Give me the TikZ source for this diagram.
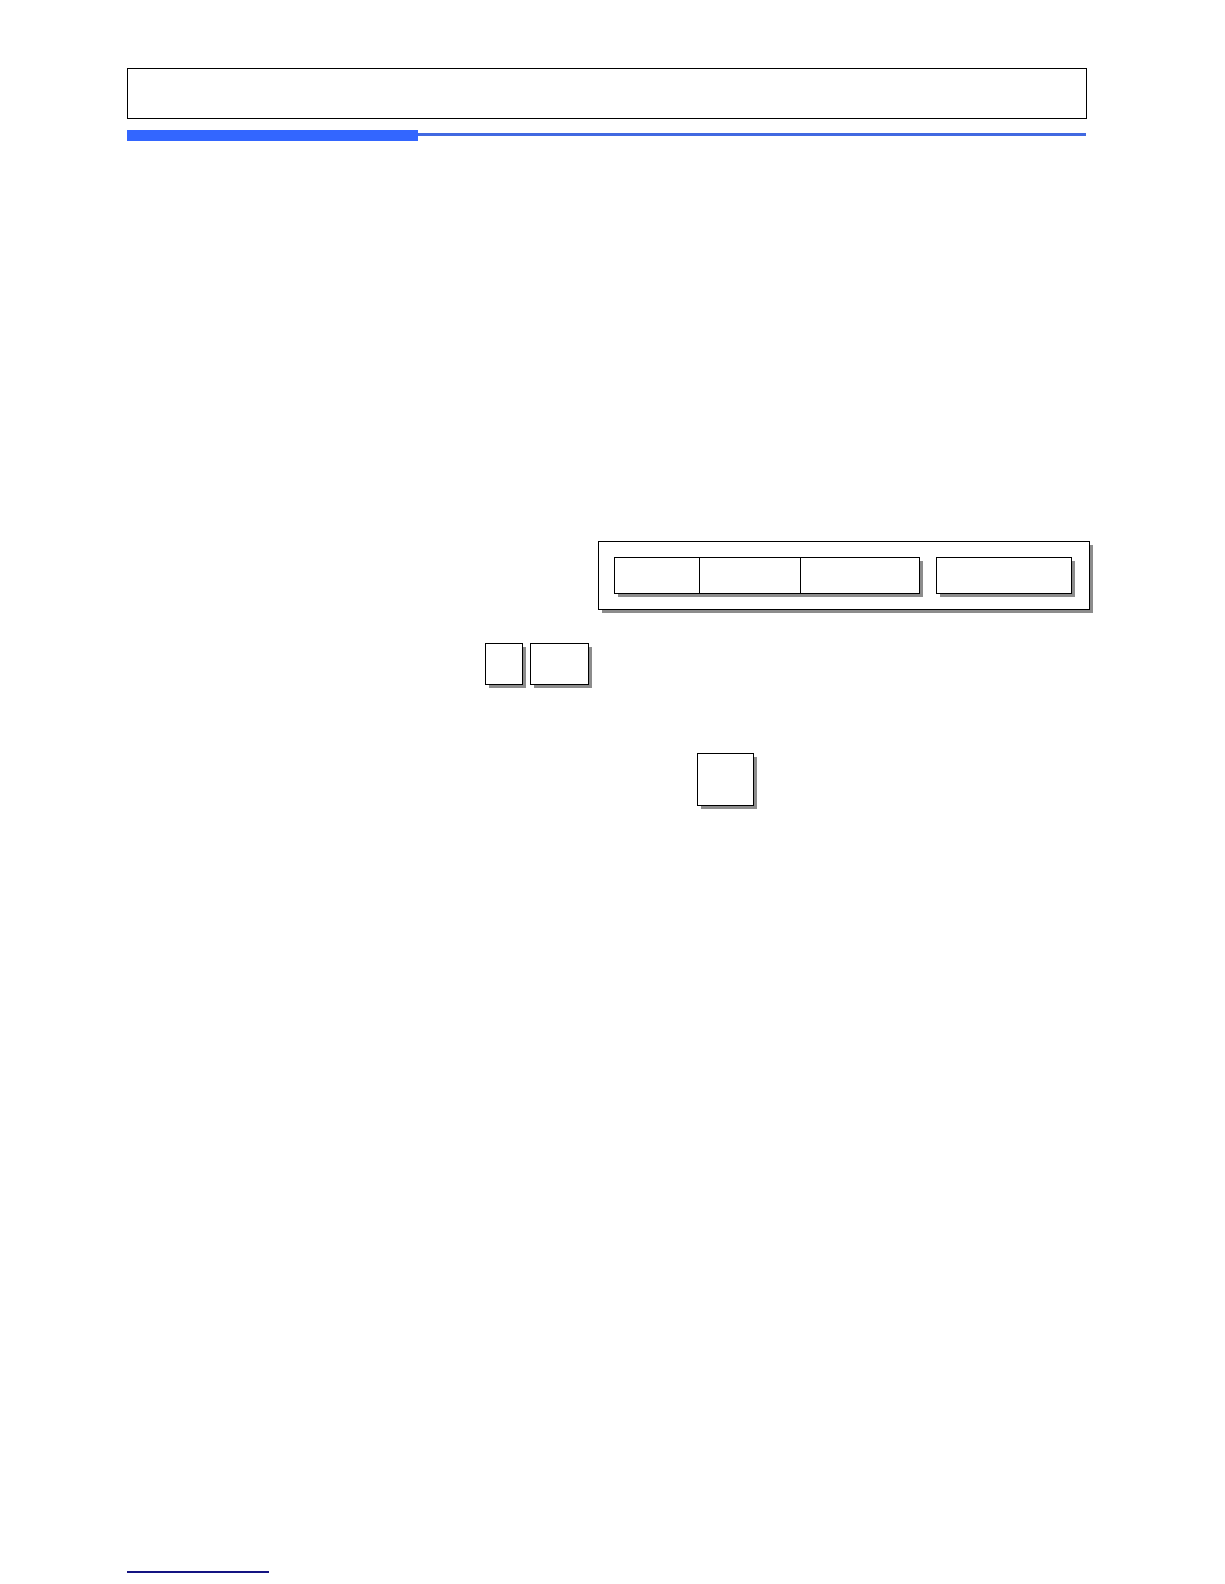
\documentclass[tikz,border=0pt]{standalone}
\begin{document}
\begin{tikzpicture}[x=1pt,y=-1pt,
  keybox/.style={draw=black,line width=1.3pt,fill=white},
  shadowbox/.style={fill=black!45,draw=none}]
\useasboundingbox (0,0) rectangle (1224,1584);
\definecolor{barblue}{RGB}{51,102,255}
\definecolor{lineblue}{RGB}{65,105,225}
\definecolor{navy}{RGB}{20,20,130}
% header frame
\node[draw=black,line width=1pt,minimum width=959pt,minimum height=50pt,anchor=north west,inner sep=0pt] (head) at (127,68) {};
% blue bar
\fill[barblue] (127,130) rectangle (418,141);
\fill[lineblue] (418,133.5) rectangle (1086,136.5);
% outer display frame
\fill[black!45] (602,545) rectangle (1093,613);
\node[keybox,line width=1pt,minimum width=491pt,minimum height=68pt,anchor=north west,inner sep=0pt] (frame) at (598,541) {};
% inner fields
\fill[black!45] (618,561) rectangle (923,597);
\node[keybox,minimum width=85pt,minimum height=36pt,anchor=north west,inner sep=0pt] (f1) at (614,557) {};
\node[keybox,line width=1pt,minimum width=101pt,minimum height=36pt,anchor=north west,inner sep=0pt] (f2) at (699,557) {};
\node[keybox,minimum width=119pt,minimum height=36pt,anchor=north west,inner sep=0pt] (f3) at (800,557) {};
\fill[black!45] (940,561) rectangle (1075,597);
\node[keybox,minimum width=135pt,minimum height=36pt,anchor=north west,inner sep=0pt] (f4) at (936,557) {};
% small keys
\fill[black!45] (489,647) rectangle (526,688);
\node[keybox,minimum width=37pt,minimum height=41pt,anchor=north west,inner sep=0pt] (k1) at (485,643) {};
\fill[black!45] (534,647) rectangle (592,688);
\node[keybox,minimum width=58pt,minimum height=41pt,anchor=north west,inner sep=0pt] (k2) at (530,643) {};
\fill[black!45] (701,757) rectangle (757,809);
\node[keybox,minimum width=56pt,minimum height=52pt,anchor=north west,inner sep=0pt] (k3) at (697,753) {};
% footer line
\draw[navy,line width=1.3pt] (127,1572) -- (269,1572);
\end{tikzpicture}
\end{document}
